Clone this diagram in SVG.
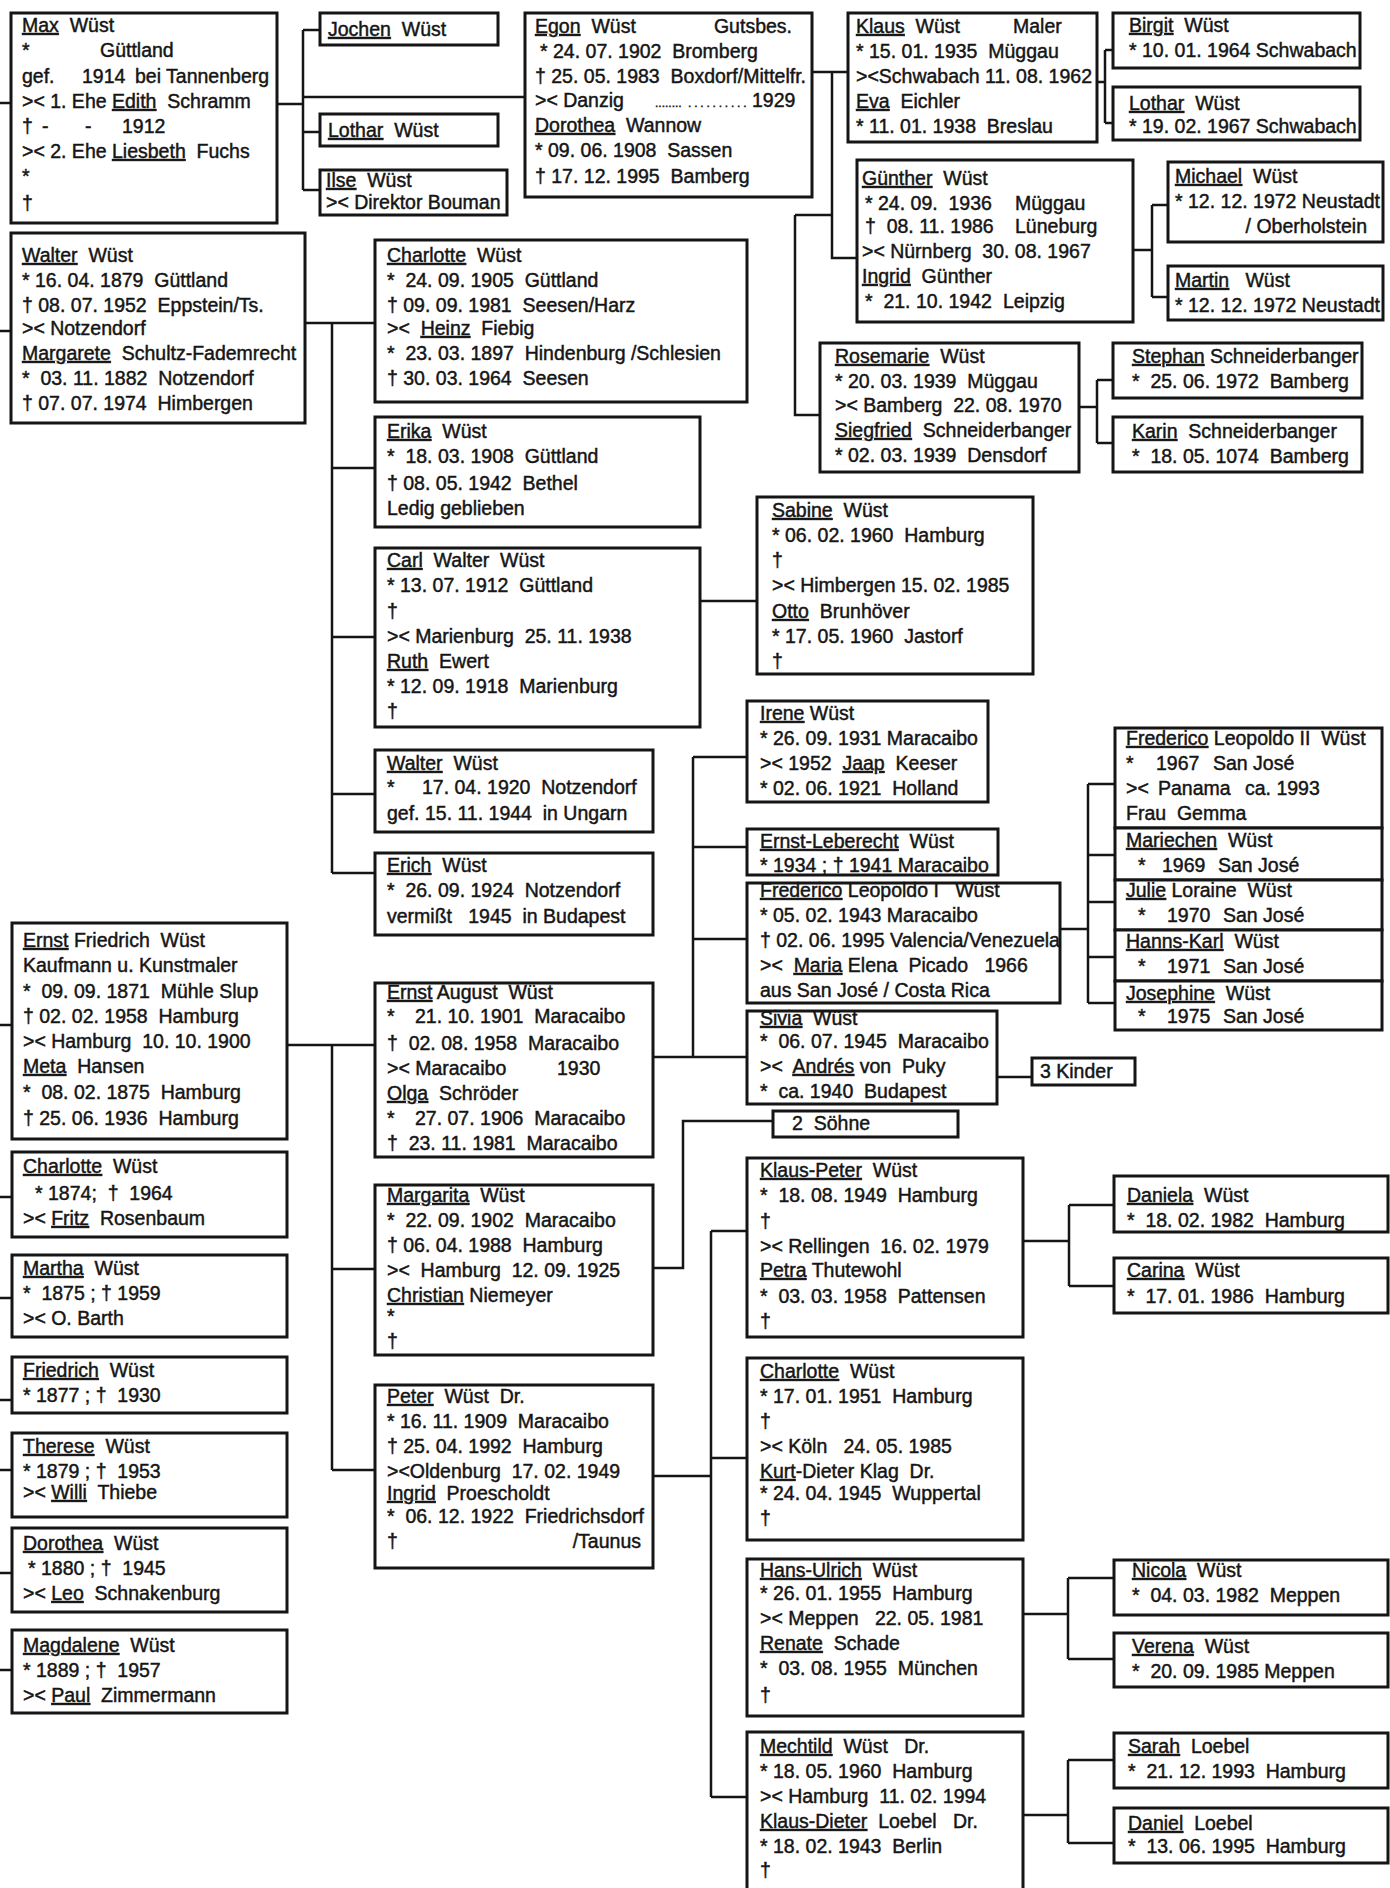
<svg xmlns="http://www.w3.org/2000/svg" width="1390" height="1888" viewBox="0 0 1390 1888" xml:space="preserve">
<style>
.b{fill:#fff;stroke:#151515;stroke-width:3}
.c{fill:none;stroke:#151515;stroke-width:2.5}
text{font-family:"Liberation Sans",Arial,sans-serif;font-size:19.5px;white-space:pre;fill:#151515;stroke:#151515;stroke-width:0.45}
.u{text-decoration:underline}
.e{text-anchor:end}
.d{font-size:12px}
</style>
<rect width="1390" height="1888" fill="#fff"/>
<g id="connectors">
<path class="c" d="M0 103H11M0 331H11M0 1025H12M0 1197H12M0 1298H12M0 1400H12M0 1470H12M0 1573H12M0 1670H12"/>
<path class="c" d="M277 104H303M303 30V190M303 30H320M303 97H525M303 132H320M303 190H320"/>
<path class="c" d="M812 72H848M832 72V258H857M795 215H832M795 215V415H820"/>
<path class="c" d="M1097 82H1105M1105 50V123M1105 50H1113M1105 123H1113"/>
<path class="c" d="M1133 250H1152M1152 205V297M1152 205H1168M1152 297H1168"/>
<path class="c" d="M1079 407H1097M1097 380V443M1097 380H1113M1097 443H1113"/>
<path class="c" d="M305 323H375M332 323V873M332 468H375M332 637H375M332 794H375M332 873H375"/>
<path class="c" d="M700 601H757"/>
<path class="c" d="M653 1057H747M693 757V1057M693 757H747M693 847H747M693 939H747"/>
<path class="c" d="M997 1077H1032"/>
<path class="c" d="M1060 929H1088M1088 784V1003M1088 784H1115M1088 855H1115M1088 902H1115M1088 957H1115M1088 1003H1115"/>
<path class="c" d="M287 1045H375M332 1045V1470M332 1269H375M332 1470H375"/>
<path class="c" d="M653 1268H683V1121H773"/>
<path class="c" d="M653 1476H711M711 1231V1797M711 1231H747M711 1458H747M711 1797H747"/>
<path class="c" d="M1023 1241H1069M1069 1205V1286M1069 1205H1114M1069 1286H1114"/>
<path class="c" d="M1023 1614H1068M1068 1578V1659M1068 1578H1114M1068 1659H1114"/>
<path class="c" d="M1023 1815H1068M1068 1760V1843M1068 1760H1114M1068 1843H1114"/>
</g>

<g id="max">
<rect class="b" x="11" y="13" width="266" height="210"/>
<text x="22" y="32"><tspan class="u">Max</tspan>  Wüst</text>
<text x="22" y="57">*<tspan x="100">Güttland</tspan></text>
<text x="22" y="83">gef.<tspan x="82">1914</tspan><tspan x="135">bei Tannenberg</tspan></text>
<text x="22" y="108">&gt;&lt; 1. Ehe <tspan class="u">Edith</tspan>  Schramm</text>
<text x="22" y="133">†<tspan x="42">-</tspan><tspan x="85">-</tspan><tspan x="122">1912</tspan></text>
<text x="22" y="158">&gt;&lt; 2. Ehe <tspan class="u">Liesbeth</tspan>  Fuchs</text>
<text x="22" y="183">*</text>
<text x="22" y="210">†</text>
</g>
<g id="jochen">
<rect class="b" x="320" y="13" width="178" height="32"/>
<text x="328" y="36"><tspan class="u">Jochen</tspan>  Wüst</text>
</g>
<g id="lothar">
<rect class="b" x="320" y="114" width="178" height="32"/>
<text x="328" y="137"><tspan class="u">Lothar</tspan>  Wüst</text>
</g>
<g id="ilse">
<rect class="b" x="320" y="170" width="187" height="45"/>
<text x="326" y="187"><tspan class="u">Ilse</tspan>  Wüst</text>
<text x="326" y="209">&gt;&lt; Direktor Bouman</text>
</g>
<g id="egon">
<rect class="b" x="525" y="13" width="287" height="184"/>
<text x="535" y="33"><tspan class="u">Egon</tspan>  Wüst</text>
<text class="e" x="792" y="33">Gutsbes.</text>
<text x="540" y="58">* 24. 07. 1902  Bromberg</text>
<text x="535" y="83">† 25. 05. 1983  Boxdorf/Mittelfr.</text>
<text x="535" y="107">&gt;&lt; Danzig</text>
<text class="d" x="655" y="107">........</text>
<text class="d" x="688" y="107" letter-spacing="2.8">..........</text>
<text x="752" y="107">1929</text>
<text x="535" y="132"><tspan class="u">Dorothea</tspan>  Wannow</text>
<text x="535" y="157">* 09. 06. 1908  Sassen</text>
<text x="535" y="183">† 17. 12. 1995  Bamberg</text>
</g>
<g id="klaus">
<rect class="b" x="848" y="13" width="249" height="129"/>
<text x="856" y="33"><tspan class="u">Klaus</tspan>  Wüst<tspan x="1013">Maler</tspan></text>
<text x="856" y="58">* 15. 01. 1935  Müggau</text>
<text x="856" y="83">&gt;&lt;Schwabach 11. 08. 1962</text>
<text x="856" y="108"><tspan class="u">Eva</tspan>  Eichler</text>
<text x="856" y="133">* 11. 01. 1938  Breslau</text>
</g>
<g id="birgit">
<rect class="b" x="1113" y="13" width="247" height="55"/>
<text x="1129" y="32"><tspan class="u">Birgit</tspan>  Wüst</text>
<text x="1129" y="57">* 10. 01. 1964 Schwabach</text>
</g>
<g id="lothar-2">
<rect class="b" x="1113" y="87" width="247" height="53"/>
<text x="1129" y="110"><tspan class="u">Lothar</tspan>  Wüst</text>
<text x="1129" y="133">* 19. 02. 1967 Schwabach</text>
</g>
<g id="guenther">
<rect class="b" x="857" y="160" width="276" height="162"/>
<text x="862" y="185"><tspan class="u">Günther</tspan>  Wüst</text>
<text x="865" y="210">* 24. 09.  1936<tspan x="1015">Müggau</tspan></text>
<text x="865" y="233">†  08. 11. 1986<tspan x="1015">Lüneburg</tspan></text>
<text x="862" y="258">&gt;&lt; Nürnberg  30. 08. 1967</text>
<text x="862" y="283"><tspan class="u">Ingrid</tspan>  Günther</text>
<text x="865" y="308">*  21. 10. 1942<tspan x="1003">Leipzig</tspan></text>
</g>
<g id="michael">
<rect class="b" x="1168" y="162" width="215" height="80"/>
<text x="1175" y="183"><tspan class="u">Michael</tspan>  Wüst</text>
<text x="1175" y="208">* 12. 12. 1972 Neustadt</text>
<text class="e" x="1367" y="233">/ Oberholstein</text>
</g>
<g id="martin">
<rect class="b" x="1168" y="266" width="215" height="54"/>
<text x="1175" y="287"><tspan class="u">Martin</tspan>   Wüst</text>
<text x="1175" y="312">* 12. 12. 1972 Neustadt</text>
</g>
<g id="rosemarie">
<rect class="b" x="820" y="343" width="259" height="129"/>
<text x="835" y="363"><tspan class="u">Rosemarie</tspan>  Wüst</text>
<text x="835" y="388">* 20. 03. 1939  Müggau</text>
<text x="835" y="412">&gt;&lt; Bamberg  22. 08. 1970</text>
<text x="835" y="437"><tspan class="u">Siegfried</tspan>  Schneiderbanger</text>
<text x="835" y="462">* 02. 03. 1939  Densdorf</text>
</g>
<g id="stephan">
<rect class="b" x="1113" y="343" width="249" height="55"/>
<text x="1132" y="363"><tspan class="u">Stephan</tspan> Schneiderbanger</text>
<text x="1132" y="388">*  25. 06. 1972  Bamberg</text>
</g>
<g id="karin">
<rect class="b" x="1113" y="417" width="249" height="55"/>
<text x="1132" y="438"><tspan class="u">Karin</tspan>  Schneiderbanger</text>
<text x="1132" y="463">*  18. 05. 1074  Bamberg</text>
</g>
<g id="walter">
<rect class="b" x="11" y="233" width="294" height="190"/>
<text x="22" y="262"><tspan class="u">Walter</tspan>  Wüst</text>
<text x="22" y="287">* 16. 04. 1879  Güttland</text>
<text x="22" y="312">† 08. 07. 1952  Eppstein/Ts.</text>
<text x="22" y="335">&gt;&lt; Notzendorf</text>
<text x="22" y="360"><tspan class="u">Margarete</tspan>  Schultz-Fademrecht</text>
<text x="22" y="385">*  03. 11. 1882  Notzendorf</text>
<text x="22" y="410">† 07. 07. 1974  Himbergen</text>
</g>
<g id="charlotte">
<rect class="b" x="375" y="240" width="372" height="162"/>
<text x="387" y="262"><tspan class="u">Charlotte</tspan>  Wüst</text>
<text x="387" y="287">*  24. 09. 1905  Güttland</text>
<text x="387" y="312">† 09. 09. 1981  Seesen/Harz</text>
<text x="387" y="335">&gt;&lt;  <tspan class="u">Heinz</tspan>  Fiebig</text>
<text x="387" y="360">*  23. 03. 1897  Hindenburg /Schlesien</text>
<text x="387" y="385">† 30. 03. 1964  Seesen</text>
</g>
<g id="erika">
<rect class="b" x="375" y="417" width="325" height="110"/>
<text x="387" y="438"><tspan class="u">Erika</tspan>  Wüst</text>
<text x="387" y="463">*  18. 03. 1908  Güttland</text>
<text x="387" y="490">† 08. 05. 1942  Bethel</text>
<text x="387" y="515">Ledig geblieben</text>
</g>
<g id="carl">
<rect class="b" x="375" y="548" width="325" height="179"/>
<text x="387" y="567"><tspan class="u">Carl</tspan>  Walter  Wüst</text>
<text x="387" y="592">* 13. 07. 1912  Güttland</text>
<text x="387" y="618">†</text>
<text x="387" y="643">&gt;&lt; Marienburg  25. 11. 1938</text>
<text x="387" y="668"><tspan class="u">Ruth</tspan>  Ewert</text>
<text x="387" y="693">* 12. 09. 1918  Marienburg</text>
<text x="387" y="718">†</text>
</g>
<g id="sabine">
<rect class="b" x="757" y="497" width="276" height="177"/>
<text x="772" y="517"><tspan class="u">Sabine</tspan>  Wüst</text>
<text x="772" y="542">* 06. 02. 1960  Hamburg</text>
<text x="772" y="567">†</text>
<text x="772" y="592">&gt;&lt; Himbergen 15. 02. 1985</text>
<text x="772" y="618"><tspan class="u">Otto</tspan>  Brunhöver</text>
<text x="772" y="643">* 17. 05. 1960  Jastorf</text>
<text x="772" y="668">†</text>
</g>
<g id="walter-2">
<rect class="b" x="375" y="750" width="278" height="82"/>
<text x="387" y="770"><tspan class="u">Walter</tspan>  Wüst</text>
<text x="387" y="794">*<tspan x="422">17. 04. 1920  Notzendorf</tspan></text>
<text x="387" y="820">gef. 15. 11. 1944  in Ungarn</text>
</g>
<g id="erich">
<rect class="b" x="375" y="853" width="278" height="82"/>
<text x="387" y="872"><tspan class="u">Erich</tspan>  Wüst</text>
<text x="387" y="897">*  26. 09. 1924  Notzendorf</text>
<text x="387" y="923">vermißt   1945  in Budapest</text>
</g>
<g id="irene">
<rect class="b" x="747" y="701" width="241" height="101"/>
<text x="760" y="720"><tspan class="u">Irene</tspan> Wüst</text>
<text x="760" y="745">* 26. 09. 1931 Maracaibo</text>
<text x="760" y="770">&gt;&lt; 1952  <tspan class="u">Jaap</tspan>  Keeser</text>
<text x="760" y="795">* 02. 06. 1921  Holland</text>
</g>
<g id="ernst-leberecht">
<rect class="b" x="747" y="829" width="251" height="46"/>
<text x="760" y="848"><tspan class="u">Ernst-Leberecht</tspan>  Wüst</text>
<text x="760" y="872">* 1934 ; † 1941 Maracaibo</text>
</g>
<g id="frederico-1">
<rect class="b" x="747" y="883" width="313" height="120"/>
<text x="760" y="897"><tspan class="u">Frederico</tspan> Leopoldo I   Wüst</text>
<text x="760" y="922">* 05. 02. 1943 Maracaibo</text>
<text x="760" y="947">† 02. 06. 1995 Valencia/Venezuela</text>
<text x="760" y="972">&gt;&lt;  <tspan class="u">Maria</tspan> Elena  Picado   1966</text>
<text x="760" y="997">aus San José / Costa Rica</text>
</g>
<g id="silvia">
<rect class="b" x="747" y="1011" width="250" height="93"/>
<text x="760" y="1025"><tspan class="u">Sivia</tspan>  Wüst</text>
<text x="760" y="1048">*  06. 07. 1945  Maracaibo</text>
<text x="760" y="1073">&gt;&lt;  <tspan class="u">Andrés</tspan> von  Puky</text>
<text x="760" y="1098">*  ca. 1940  Budapest</text>
</g>
<g id="drei-kinder">
<rect class="b" x="1032" y="1058" width="103" height="27"/>
<text x="1040" y="1078">3 Kinder</text>
</g>
<g id="zwei-soehne">
<rect class="b" x="773" y="1111" width="185" height="26"/>
<text x="792" y="1130">2  Söhne</text>
</g>
<g id="frederico-2">
<rect class="b" x="1115" y="728" width="267" height="100"/>
<text x="1126" y="745"><tspan class="u">Frederico</tspan> Leopoldo II  Wüst</text>
<text x="1126" y="770">*<tspan x="1156">1967</tspan><tspan x="1213">San José</tspan></text>
<text x="1126" y="795">&gt;&lt;<tspan x="1158">Panama</tspan><tspan x="1245">ca. 1993</tspan></text>
<text x="1126" y="820">Frau  Gemma</text>
</g>
<g id="mariechen">
<rect class="b" x="1115" y="828" width="267" height="52"/>
<text x="1126" y="847"><tspan class="u">Mariechen</tspan>  Wüst</text>
<text x="1138" y="872">*<tspan x="1162">1969</tspan><tspan x="1218">San José</tspan></text>
</g>
<g id="julie">
<rect class="b" x="1115" y="880" width="267" height="50"/>
<text x="1126" y="897"><tspan class="u">Julie</tspan> Loraine  Wüst</text>
<text x="1138" y="922">*<tspan x="1167">1970</tspan><tspan x="1223">San José</tspan></text>
</g>
<g id="hanns-karl">
<rect class="b" x="1115" y="930" width="267" height="51"/>
<text x="1126" y="948"><tspan class="u">Hanns-Karl</tspan>  Wüst</text>
<text x="1138" y="973">*<tspan x="1167">1971</tspan><tspan x="1223">San José</tspan></text>
</g>
<g id="josephine">
<rect class="b" x="1115" y="981" width="267" height="49"/>
<text x="1126" y="1000"><tspan class="u">Josephine</tspan>  Wüst</text>
<text x="1138" y="1023">*<tspan x="1167">1975</tspan><tspan x="1223">San José</tspan></text>
</g>
<g id="ernst-friedrich">
<rect class="b" x="12" y="923" width="275" height="216"/>
<text x="23" y="947"><tspan class="u">Ernst</tspan> Friedrich  Wüst</text>
<text x="23" y="972">Kaufmann u. Kunstmaler</text>
<text x="23" y="998">*  09. 09. 1871  Mühle Slup</text>
<text x="23" y="1023">† 02. 02. 1958  Hamburg</text>
<text x="23" y="1048">&gt;&lt; Hamburg  10. 10. 1900</text>
<text x="23" y="1073"><tspan class="u">Meta</tspan>  Hansen</text>
<text x="23" y="1099">*  08. 02. 1875  Hamburg</text>
<text x="23" y="1125">† 25. 06. 1936  Hamburg</text>
</g>
<g id="charlotte-2">
<rect class="b" x="12" y="1152" width="275" height="85"/>
<text x="23" y="1173"><tspan class="u">Charlotte</tspan>  Wüst</text>
<text x="35" y="1200">* 1874;  †  1964</text>
<text x="23" y="1225">&gt;&lt; <tspan class="u">Fritz</tspan>  Rosenbaum</text>
</g>
<g id="martha">
<rect class="b" x="12" y="1255" width="275" height="82"/>
<text x="23" y="1275"><tspan class="u">Martha</tspan>  Wüst</text>
<text x="23" y="1300">*  1875 ; † 1959</text>
<text x="23" y="1325">&gt;&lt; O. Barth</text>
</g>
<g id="friedrich">
<rect class="b" x="12" y="1357" width="275" height="56"/>
<text x="23" y="1377"><tspan class="u">Friedrich</tspan>  Wüst</text>
<text x="23" y="1402">* 1877 ; †  1930</text>
</g>
<g id="therese">
<rect class="b" x="12" y="1433" width="275" height="84"/>
<text x="23" y="1453"><tspan class="u">Therese</tspan>  Wüst</text>
<text x="23" y="1478">* 1879 ; †  1953</text>
<text x="23" y="1499">&gt;&lt; <tspan class="u">Willi</tspan>  Thiebe</text>
</g>
<g id="dorothea">
<rect class="b" x="12" y="1528" width="275" height="84"/>
<text x="23" y="1550"><tspan class="u">Dorothea</tspan>  Wüst</text>
<text x="28" y="1575">* 1880 ; †  1945</text>
<text x="23" y="1600">&gt;&lt; <tspan class="u">Leo</tspan>  Schnakenburg</text>
</g>
<g id="magdalene">
<rect class="b" x="12" y="1630" width="275" height="83"/>
<text x="23" y="1652"><tspan class="u">Magdalene</tspan>  Wüst</text>
<text x="23" y="1677">* 1889 ; †  1957</text>
<text x="23" y="1702">&gt;&lt; <tspan class="u">Paul</tspan>  Zimmermann</text>
</g>
<g id="ernst-august">
<rect class="b" x="375" y="983" width="278" height="174"/>
<text x="387" y="999"><tspan class="u">Ernst</tspan> August  Wüst</text>
<text x="387" y="1023">*<tspan x="415">21. 10. 1901  Maracaibo</tspan></text>
<text x="387" y="1050">†  02. 08. 1958  Maracaibo</text>
<text x="387" y="1075">&gt;&lt; Maracaibo<tspan x="557">1930</tspan></text>
<text x="387" y="1100"><tspan class="u">Olga</tspan>  Schröder</text>
<text x="387" y="1125">*<tspan x="415">27. 07. 1906  Maracaibo</tspan></text>
<text x="387" y="1150">†  23. 11. 1981  Maracaibo</text>
</g>
<g id="margarita">
<rect class="b" x="375" y="1185" width="278" height="170"/>
<text x="387" y="1202"><tspan class="u">Margarita</tspan>  Wüst</text>
<text x="387" y="1227">*  22. 09. 1902  Maracaibo</text>
<text x="387" y="1252">† 06. 04. 1988  Hamburg</text>
<text x="387" y="1277">&gt;&lt;  Hamburg  12. 09. 1925</text>
<text x="387" y="1302"><tspan class="u">Christian</tspan> Niemeyer</text>
<text x="387" y="1323">*</text>
<text x="387" y="1348">†</text>
</g>
<g id="peter">
<rect class="b" x="375" y="1385" width="278" height="183"/>
<text x="387" y="1403"><tspan class="u">Peter</tspan>  Wüst  Dr.</text>
<text x="387" y="1428">* 16. 11. 1909  Maracaibo</text>
<text x="387" y="1453">† 25. 04. 1992  Hamburg</text>
<text x="387" y="1478">&gt;&lt;Oldenburg  17. 02. 1949</text>
<text x="387" y="1500"><tspan class="u">Ingrid</tspan>  Proescholdt</text>
<text x="387" y="1523">*  06. 12. 1922  Friedrichsdorf</text>
<text x="387" y="1548">†</text>
<text class="e" x="641" y="1548">/Taunus</text>
</g>
<g id="klaus-peter">
<rect class="b" x="747" y="1158" width="276" height="179"/>
<text x="760" y="1177"><tspan class="u">Klaus-Peter</tspan>  Wüst</text>
<text x="760" y="1202">*  18. 08. 1949  Hamburg</text>
<text x="760" y="1228">†</text>
<text x="760" y="1253">&gt;&lt; Rellingen  16. 02. 1979</text>
<text x="760" y="1277"><tspan class="u">Petra</tspan> Thutewohl</text>
<text x="760" y="1303">*  03. 03. 1958  Pattensen</text>
<text x="760" y="1328">†</text>
</g>
<g id="daniela">
<rect class="b" x="1114" y="1176" width="274" height="56"/>
<text x="1127" y="1202"><tspan class="u">Daniela</tspan>  Wüst</text>
<text x="1127" y="1227">*  18. 02. 1982  Hamburg</text>
</g>
<g id="carina">
<rect class="b" x="1114" y="1258" width="274" height="55"/>
<text x="1127" y="1277"><tspan class="u">Carina</tspan>  Wüst</text>
<text x="1127" y="1303">*  17. 01. 1986  Hamburg</text>
</g>
<g id="charlotte-3">
<rect class="b" x="747" y="1358" width="276" height="182"/>
<text x="760" y="1378"><tspan class="u">Charlotte</tspan>  Wüst</text>
<text x="760" y="1403">* 17. 01. 1951  Hamburg</text>
<text x="760" y="1428">†</text>
<text x="760" y="1453">&gt;&lt; Köln   24. 05. 1985</text>
<text x="760" y="1478"><tspan class="u">Kurt</tspan>-Dieter Klag  Dr.</text>
<text x="760" y="1500">* 24. 04. 1945  Wuppertal</text>
<text x="760" y="1525">†</text>
</g>
<g id="hans-ulrich">
<rect class="b" x="747" y="1559" width="276" height="157"/>
<text x="760" y="1577"><tspan class="u">Hans-Ulrich</tspan>  Wüst</text>
<text x="760" y="1600">* 26. 01. 1955  Hamburg</text>
<text x="760" y="1625">&gt;&lt; Meppen   22. 05. 1981</text>
<text x="760" y="1650"><tspan class="u">Renate</tspan>  Schade</text>
<text x="760" y="1675">*  03. 08. 1955  München</text>
<text x="760" y="1702">†</text>
</g>
<g id="nicola">
<rect class="b" x="1114" y="1560" width="274" height="55"/>
<text x="1132" y="1577"><tspan class="u">Nicola</tspan>  Wüst</text>
<text x="1132" y="1602">*  04. 03. 1982  Meppen</text>
</g>
<g id="verena">
<rect class="b" x="1114" y="1633" width="274" height="54"/>
<text x="1132" y="1653"><tspan class="u">Verena</tspan>  Wüst</text>
<text x="1132" y="1678">*  20. 09. 1985 Meppen</text>
</g>
<g id="mechtild">
<rect class="b" x="747" y="1732" width="276" height="170"/>
<text x="760" y="1753"><tspan class="u">Mechtild</tspan>  Wüst   Dr.</text>
<text x="760" y="1778">* 18. 05. 1960  Hamburg</text>
<text x="760" y="1803">&gt;&lt; Hamburg  11. 02. 1994</text>
<text x="760" y="1828"><tspan class="u">Klaus-Dieter</tspan>  Loebel   Dr.</text>
<text x="760" y="1853">* 18. 02. 1943  Berlin</text>
<text x="760" y="1877">†</text>
</g>
<g id="sarah">
<rect class="b" x="1114" y="1733" width="274" height="55"/>
<text x="1128" y="1753"><tspan class="u">Sarah</tspan>  Loebel</text>
<text x="1128" y="1778">*  21. 12. 1993  Hamburg</text>
</g>
<g id="daniel">
<rect class="b" x="1114" y="1808" width="274" height="55"/>
<text x="1128" y="1830"><tspan class="u">Daniel</tspan>  Loebel</text>
<text x="1128" y="1853">*  13. 06. 1995  Hamburg</text>
</g>
</svg>
